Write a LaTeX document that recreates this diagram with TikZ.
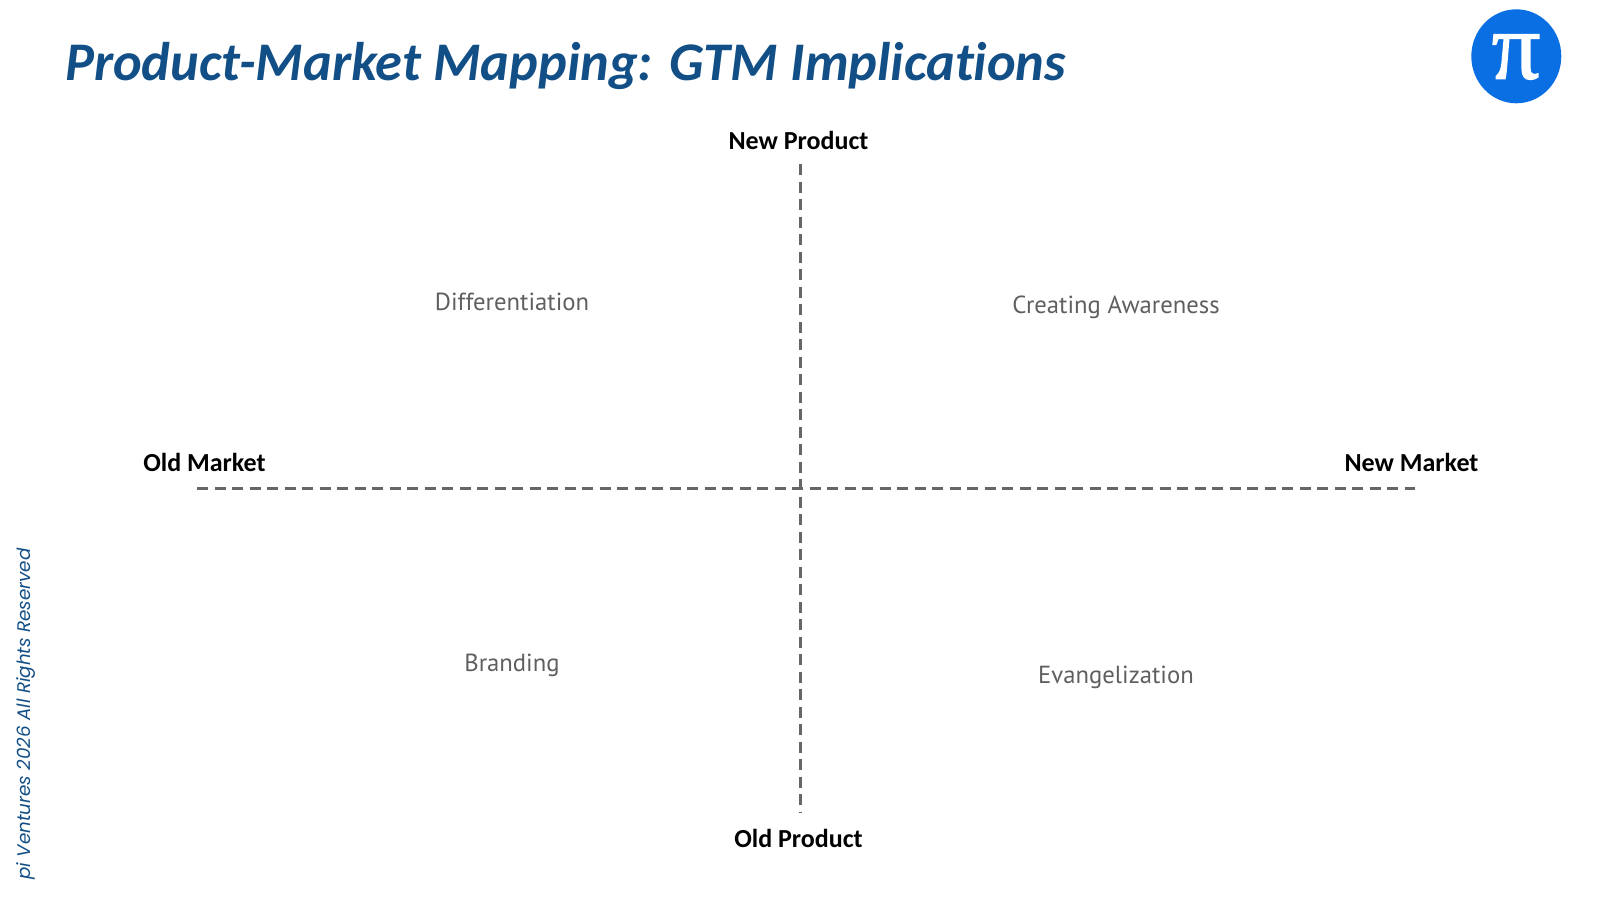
\documentclass[tikz,border=0pt]{standalone}
\usetikzlibrary{shapes.geometric}
\usepackage{fontspec}
\setmainfont{PT Sans}
\newfontfamily\titlefont[Ligatures=NoCommon,Contextuals=NoAlternate]{Carlito}
\newfontfamily\axisfont{Carlito}
\newfontfamily\footfont{Poppins}
\newfontfamily\pifont[FakeBold=1.5]{Liberation Serif}
\definecolor{titleblue}{HTML}{134F87}
\definecolor{pilogo}{HTML}{0B6FE4}
\definecolor{axisgrey}{HTML}{666666}
\definecolor{quadgrey}{HTML}{5F5F5F}
\tikzset{
 axisline/.style={draw=axisgrey,line width=3pt,dash pattern=on 11pt off 6.5pt},
 axislabel/.style={font=\fontsize{26}{30}\selectfont\axisfont\bfseries,text=black,inner sep=0pt,anchor=center},
 quadlabel/.style={font=\fontsize{24.7}{30}\selectfont,text=quadgrey,inner sep=0pt,anchor=center}
}
\begin{document}
\begin{tikzpicture}[x=1pt,y=-1pt]
\useasboundingbox (0,0) rectangle (1600,900);
\node[font=\fontsize{54.4}{60}\selectfont\titlefont\bfseries\itshape,text=titleblue,inner sep=0pt,anchor=west] (title) at (65,66) {Product-Market Mapping: GTM Implications};
\node[ellipse,fill=pilogo,minimum width=90pt,minimum height=94pt,inner sep=0pt] (logo) at (1516.3,56.3) {};
\node[font=\fontsize{96}{96}\selectfont\pifont,text=white,inner sep=0pt] (pi) at (1516,57) {π};
\coordinate (vt) at (800,164);
\coordinate (vb) at (800,813);
\coordinate (hl) at (197,488.5);
\coordinate (hr) at (1415,488.5);
\draw[axisline] (vt) -- (vb);
\draw[axisline] (hl) -- (hr);
\node[axislabel] (np) at (798.5,140.5) {New Product};
\node[axislabel] (op) at (798.5,838.5) {Old Product};
\node[axislabel] (om) at (204.5,462.5) {Old Market};
\node[axislabel] (nm) at (1411.5,462.5) {New Market};
\node[quadlabel] (q1) at (512,302) {Differentiation};
\node[quadlabel] (q2) at (1116,307) {Creating Awareness};
\node[quadlabel] (q3) at (512,665.5) {Branding};
\node[quadlabel] (q4) at (1116,677) {Evangelization};
\node[font=\fontsize{18.3}{22}\selectfont\footfont\itshape,text=titleblue,rotate=90,inner sep=0pt,anchor=center] (foot) at (26,714) {pi Ventures 2026 All Rights Reserved};
\end{tikzpicture}
\end{document}
